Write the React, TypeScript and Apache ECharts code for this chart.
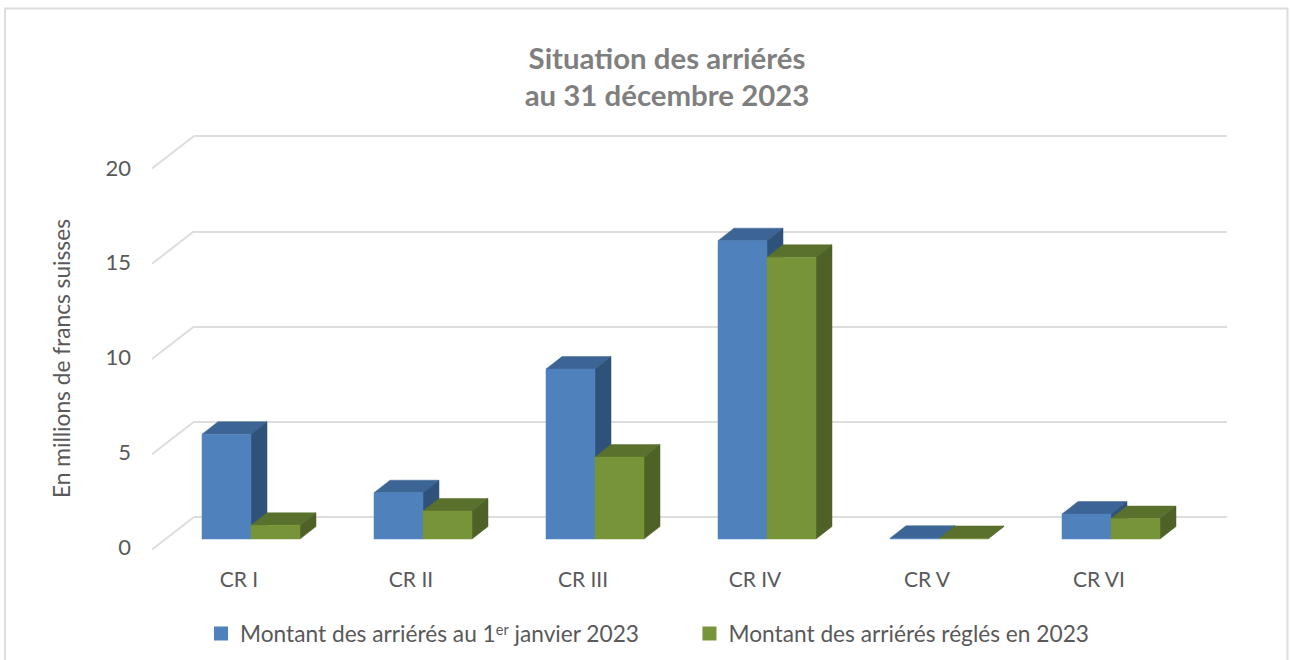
import React, { useEffect, useRef } from "react";
import * as echarts from "echarts";

const categories = ["CR I", "CR II", "CR III", "CR IV", "CR V", "CR VI"];
const openingArrears = [5.5, 2.43, 8.92, 15.66, 0.04, 1.31];
const settledArrears = [0.72, 1.47, 4.3, 14.79, 0.03, 1.07];
const yTicks = [0, 5, 10, 15, 20];
const titleText = "Situation des arriérés\nau 31 décembre 2023";
const yAxisTitle = "En millions de francs suisses";
const openingName = "Montant des arriérés au 1er janvier 2023";
const settledName = "Montant des arriérés réglés en 2023";

const FONT = "Lato";
const TEXT = "#595959";
const WALL = "#dddddd";
const BAR_W = 49;
const DEPTH_X = 16;
const DEPTH_Y = 12.5;

const bar3d = (side: number, front: string, top: string, right: string) => (_p: any, api: any) => {
  const i = api.value(0);
  const [cx, yTop] = api.coord([i, api.value(1)]);
  const [, yBase] = api.coord([i, 0]);
  const x0 = side < 0 ? cx - BAR_W : cx;
  const x1 = x0 + BAR_W;
  const poly = (points: number[][], fill: string) => ({
    type: "polygon",
    shape: { points },
    style: { fill, stroke: fill, lineWidth: 0.5 },
  });
  return {
    type: "group",
    children: [
      poly([[x0, yTop], [x1, yTop], [x1 + DEPTH_X, yTop - DEPTH_Y], [x0 + DEPTH_X, yTop - DEPTH_Y]], top),
      poly([[x1, yTop], [x1 + DEPTH_X, yTop - DEPTH_Y], [x1 + DEPTH_X, yBase - DEPTH_Y], [x1, yBase]], right),
      poly([[x0, yTop], [x1, yTop], [x1, yBase], [x0, yBase]], front),
    ],
  };
};

const wallDiagonal = (_p: any, api: any) => {
  const [x, y] = api.coord([0, api.value(0)]);
  return {
    type: "line",
    shape: { x1: x, y1: y, x2: x - 42, y2: y + 32.5 },
    style: { stroke: WALL, lineWidth: 2, fill: "none" },
  };
};

export default function App() {
  const ref = useRef<HTMLDivElement>(null);
  useEffect(() => {
    const chart = echarts.init(ref.current!, null, { renderer: "svg" });
    chart.setOption({
      animation: false,
      backgroundColor: "#ffffff",
      textStyle: { fontFamily: FONT },
      title: {
        text: titleText,
        left: 662,
        top: 34,
        textAlign: "center",
        textStyle: { fontFamily: FONT, fontSize: 29.4, fontWeight: "bold", color: "#7f7f7f", lineHeight: 37 },
      },
      legend: {
        data: [openingName, settledName],
        left: 209,
        top: 617,
        itemWidth: 14,
        itemHeight: 14,
        itemGap: 63,
        icon: "rect",
        formatter: (name: string) =>
          name === openingName
            ? "{f|Montant des arriérés au 1}{s|er}{a| janvier 2023}"
            : "{f|" + name + "}",
        textStyle: {
          color: TEXT,
          fontFamily: FONT,
          fontSize: 22.7,
          rich: {
            f: { fontFamily: FONT, fontSize: 22.7, color: TEXT, padding: [0, 0, 0, 7] },
            a: { fontFamily: FONT, fontSize: 22.7, color: TEXT },
            s: { fontFamily: FONT, fontSize: 14.5, color: TEXT, verticalAlign: "top", padding: [0, 0, 8, 0] },
          },
        },
      },
      grid: [
        { left: 153, width: 1032, top: 167, height: 379 },
        { left: 194, width: 1033, top: 136, height: 381 },
        { left: 165, width: 1032, top: 158, height: 381 },
      ],
      xAxis: [
        {
          gridIndex: 0,
          type: "category",
          data: categories,
          axisLine: { show: false },
          axisTick: { show: false },
          axisLabel: { color: TEXT, fontFamily: FONT, fontSize: 21, margin: 22 },
        },
        { gridIndex: 1, type: "value", min: 0, max: 1, show: false },
        { gridIndex: 2, type: "category", data: categories, show: false },
      ],
      yAxis: [
        {
          gridIndex: 0,
          type: "value",
          min: 0,
          max: 20,
          interval: 5,
          name: yAxisTitle,
          nameLocation: "middle",
          nameGap: 80,
          nameTextStyle: { color: TEXT, fontFamily: FONT, fontSize: 22.7, padding: [0, 4, 0, 0] },
          axisLine: { show: false },
          axisTick: { show: false },
          splitLine: { show: false },
          axisLabel: { color: TEXT, fontFamily: FONT, fontSize: 22, margin: 22 },
        },
        {
          gridIndex: 1,
          type: "value",
          min: 0,
          max: 20,
          interval: 5,
          axisLine: { show: false },
          axisTick: { show: false },
          axisLabel: { show: false },
          splitLine: { show: true, lineStyle: { color: WALL, width: 2 } },
        },
        { gridIndex: 2, type: "value", min: 0, max: 20, interval: 5, show: false },
      ],
      series: [
        {
          type: "custom",
          coordinateSystem: "cartesian2d",
          xAxisIndex: 1,
          yAxisIndex: 1,
          renderItem: wallDiagonal,
          data: yTicks.map((v) => [v]),
          encode: { y: 0 },
          silent: true,
          clip: false,
          z: 1,
        },
        {
          name: openingName,
          type: "custom",
          coordinateSystem: "cartesian2d",
          xAxisIndex: 2,
          yAxisIndex: 2,
          renderItem: bar3d(-1, "#4f81bd", "#3c6494", "#2f527a"),
          itemStyle: { color: "#4f81bd" },
          data: openingArrears.map((v, i) => [i, v]),
          encode: { x: 0, y: 1 },
          clip: false,
          z: 2,
        },
        {
          name: settledName,
          type: "custom",
          coordinateSystem: "cartesian2d",
          xAxisIndex: 2,
          yAxisIndex: 2,
          renderItem: bar3d(1, "#789438", "#5a702d", "#4e6126"),
          itemStyle: { color: "#789438" },
          data: settledArrears.map((v, i) => [i, v]),
          encode: { x: 0, y: 1 },
          clip: false,
          z: 3,
        },
      ],
      graphic: [
        {
          type: "polyline",
          silent: true,
          z: -1,
          shape: { points: [[5, 680], [5, 8.5], [1287.5, 8.5], [1287.5, 680]] },
          style: { stroke: WALL, lineWidth: 2, fill: "none" },
        },
      ],
    });
    return () => chart.dispose();
  }, []);
  return <div ref={ref} style={{ position: "fixed", left: 0, top: 0, width: 1290, height: 660 }} />;
}
